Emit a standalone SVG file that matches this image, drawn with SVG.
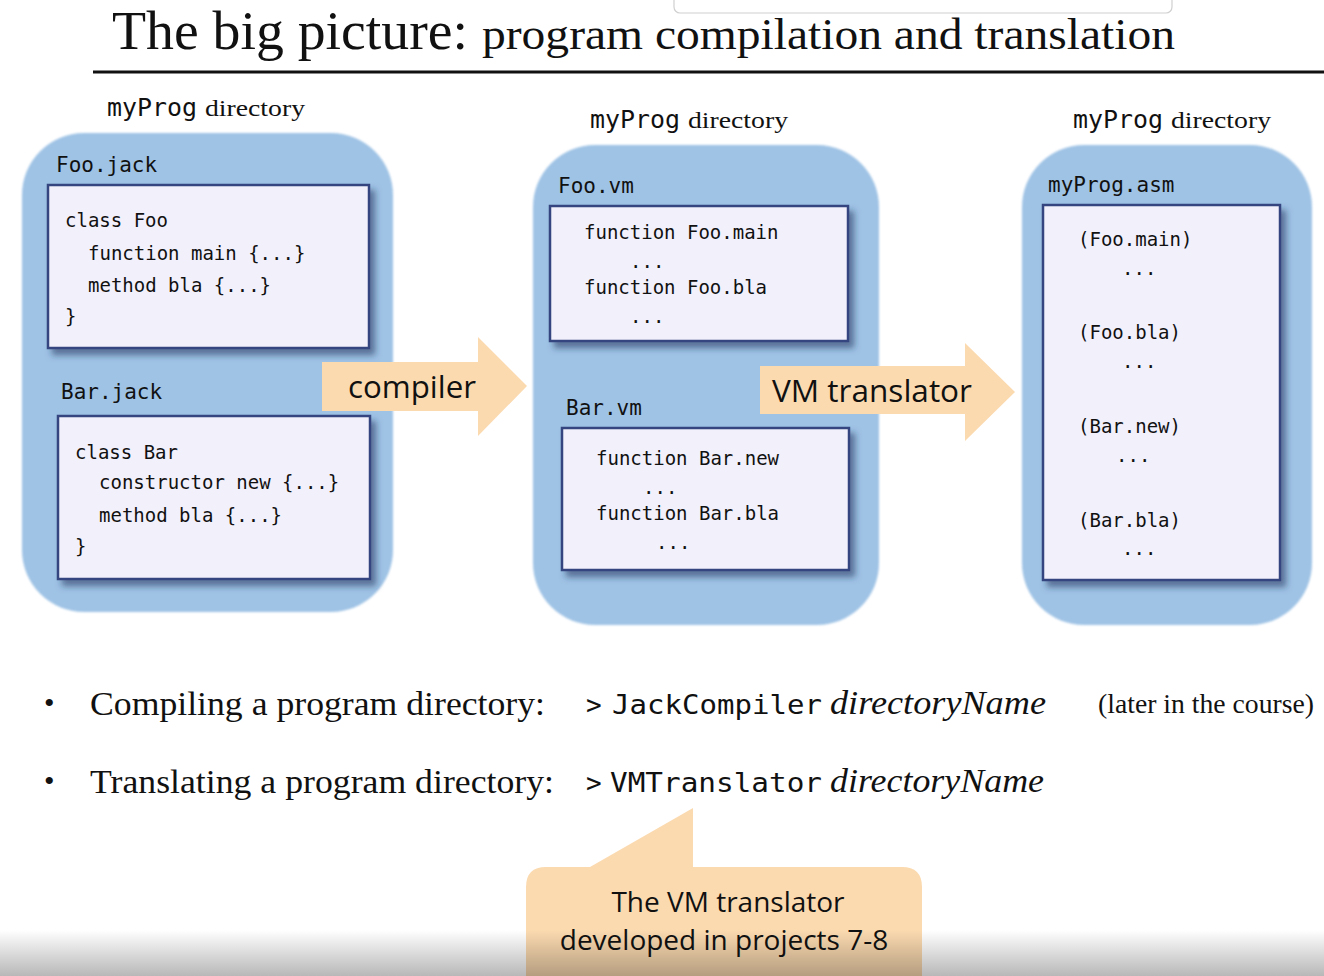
<svg xmlns="http://www.w3.org/2000/svg" width="1324" height="976" viewBox="0 0 1324 976">
<defs>
<style>
.serif{font-family:"Liberation Serif","Times New Roman",serif;fill:#111}
.mono{font-family:"DejaVu Sans Mono","Liberation Mono",monospace;fill:#111}
.sans{font-family:"Open Sans","Noto Sans","Liberation Sans",sans-serif;fill:#111}
.dir{fill:#9fc3e5}
.file{fill:#f1f0fb;stroke:#34457f;stroke-width:2.5}
.code{font-size:19px}
.fname{font-size:21px}
.arrow{fill:#fbdab0}
</style>
<filter id="sh" x="-10%" y="-10%" width="130%" height="130%">
<feDropShadow dx="5" dy="6" stdDeviation="3" flood-color="#1f2d5a" flood-opacity="0.55"/>
</filter>
<filter id="soft" x="-10%" y="-10%" width="120%" height="120%">
<feGaussianBlur stdDeviation="1.2"/>
</filter>
<linearGradient id="fade" x1="0" y1="0" x2="0" y2="1">
<stop offset="0" stop-color="#000" stop-opacity="0"/>
<stop offset="1" stop-color="#000" stop-opacity="0.28"/>
</linearGradient>
</defs>
<rect width="1324" height="976" fill="#fff"/>
<!-- top overlay box -->
<rect x="674" y="-10" width="498" height="23" rx="6" fill="#fff" stroke="#d0d0d0" stroke-width="1.2"/>
<!-- title -->
<g id="title">
<text class="serif" x="112" y="49" font-size="55" textLength="356" lengthAdjust="spacingAndGlyphs">The big picture:</text>
<text class="serif" x="482" y="49" font-size="45" textLength="693" lengthAdjust="spacingAndGlyphs">program compilation and translation</text>
<line x1="93" y1="72" x2="1324" y2="72" stroke="#111" stroke-width="3"/>
</g>
<!-- directory 1 -->
<g id="dir1">
<text x="107" y="116" font-size="24"><tspan class="mono" textLength="90" lengthAdjust="spacingAndGlyphs">myProg</tspan><tspan class="serif" dx="8" textLength="100" lengthAdjust="spacingAndGlyphs">directory</tspan></text>
<rect class="dir" x="22" y="133" width="371" height="479" rx="62" filter="url(#soft)"/>
<text class="mono fname" x="56" y="172">Foo.jack</text>
<rect class="file" x="48" y="185" width="321" height="163" filter="url(#sh)"/>
<text class="mono code" x="65" y="227">class Foo</text>
<text class="mono code" x="88" y="260">function main {...}</text>
<text class="mono code" x="88" y="292">method bla {...}</text>
<text class="mono code" x="65" y="323">}</text>
<text class="mono fname" x="61" y="399">Bar.jack</text>
<rect class="file" x="58" y="416" width="312" height="163" filter="url(#sh)"/>
<text class="mono code" x="75" y="459">class Bar</text>
<text class="mono code" x="99" y="489">constructor new {...}</text>
<text class="mono code" x="99" y="522">method bla {...}</text>
<text class="mono code" x="75" y="553">}</text>
</g>
<!-- directory 2 -->
<g id="dir2">
<text x="590" y="128" font-size="24"><tspan class="mono" textLength="90" lengthAdjust="spacingAndGlyphs">myProg</tspan><tspan class="serif" dx="8" textLength="100" lengthAdjust="spacingAndGlyphs">directory</tspan></text>
<rect class="dir" x="533" y="145" width="346" height="480" rx="62" filter="url(#soft)"/>
<text class="mono fname" x="558" y="193">Foo.vm</text>
<rect class="file" x="550" y="206" width="298" height="135" filter="url(#sh)"/>
<text class="mono code" x="584" y="239">function Foo.main</text>
<text class="mono code" x="630" y="268">...</text>
<text class="mono code" x="584" y="294">function Foo.bla</text>
<text class="mono code" x="630" y="323">...</text>
<text class="mono fname" x="566" y="415">Bar.vm</text>
<rect class="file" x="562" y="428" width="287" height="142" filter="url(#sh)"/>
<text class="mono code" x="596" y="465">function Bar.new</text>
<text class="mono code" x="643" y="494">...</text>
<text class="mono code" x="596" y="520">function Bar.bla</text>
<text class="mono code" x="656" y="549">...</text>
</g>
<!-- directory 3 -->
<g id="dir3">
<text x="1073" y="128" font-size="24"><tspan class="mono" textLength="90" lengthAdjust="spacingAndGlyphs">myProg</tspan><tspan class="serif" dx="8" textLength="100" lengthAdjust="spacingAndGlyphs">directory</tspan></text>
<rect class="dir" x="1022" y="145" width="290" height="480" rx="62" filter="url(#soft)"/>
<text class="mono fname" x="1048" y="192">myProg.asm</text>
<rect class="file" x="1043" y="205" width="237" height="375" filter="url(#sh)"/>
<text class="mono code" x="1078" y="246">(Foo.main)</text>
<text class="mono code" x="1122" y="275">...</text>
<text class="mono code" x="1078" y="339">(Foo.bla)</text>
<text class="mono code" x="1122" y="368">...</text>
<text class="mono code" x="1078" y="433">(Bar.new)</text>
<text class="mono code" x="1116" y="462">...</text>
<text class="mono code" x="1078" y="527">(Bar.bla)</text>
<text class="mono code" x="1122" y="555">...</text>
</g>
<!-- connectors -->
<g id="connectors">
<g id="compiler-arrow">
<polygon class="arrow" points="322,362 478,362 478,337 527,386 478,436 478,411 322,411"/>
<text class="sans" x="348" y="398" font-size="31" textLength="128" lengthAdjust="spacingAndGlyphs">compiler</text>
</g>
<g id="vm-arrow">
<polygon class="arrow" points="760,366 965,366 965,343 1015,392 965,441 965,414 760,414"/>
<text class="sans" x="772" y="402" font-size="31" textLength="200" lengthAdjust="spacingAndGlyphs">VM translator</text>
</g>
</g>
<!-- bullets -->
<g id="bullets">
<text class="serif" x="44" y="713" font-size="30">•</text>
<text class="serif" x="90" y="715" font-size="34" textLength="455" lengthAdjust="spacingAndGlyphs">Compiling a program directory:</text>
<text class="mono" x="586" y="714" font-size="26">&gt;</text>
<text class="mono" x="612" y="714" font-size="27" textLength="210" lengthAdjust="spacingAndGlyphs">JackCompiler</text>
<text class="serif" x="830" y="714" font-size="34" font-style="italic" textLength="216" lengthAdjust="spacingAndGlyphs">directoryName</text>
<text class="serif" x="1098" y="713" font-size="27" textLength="216" lengthAdjust="spacingAndGlyphs">(later in the course)</text>
<text class="serif" x="44" y="791" font-size="30">•</text>
<text class="serif" x="90" y="793" font-size="34" textLength="464" lengthAdjust="spacingAndGlyphs">Translating a program directory:</text>
<text class="mono" x="586" y="792" font-size="26">&gt;</text>
<text class="mono" x="610" y="792" font-size="27" textLength="212" lengthAdjust="spacingAndGlyphs">VMTranslator</text>
<text class="serif" x="830" y="792" font-size="34" font-style="italic" textLength="214" lengthAdjust="spacingAndGlyphs">directoryName</text>
</g>
<!-- callout -->
<g id="callout">
<path class="arrow" d="M546,867 L590,867 L693,808 L693,867 L902,867 Q922,867 922,887 L922,990 L526,990 L526,887 Q526,867 546,867 Z"/>
<text class="sans" x="728" y="912" font-size="28" text-anchor="middle">The VM translator</text>
<text class="sans" x="724" y="950" font-size="28" text-anchor="middle">developed in projects 7-8</text>
</g>
<rect x="0" y="930" width="1324" height="46" fill="url(#fade)"/>
</svg>
